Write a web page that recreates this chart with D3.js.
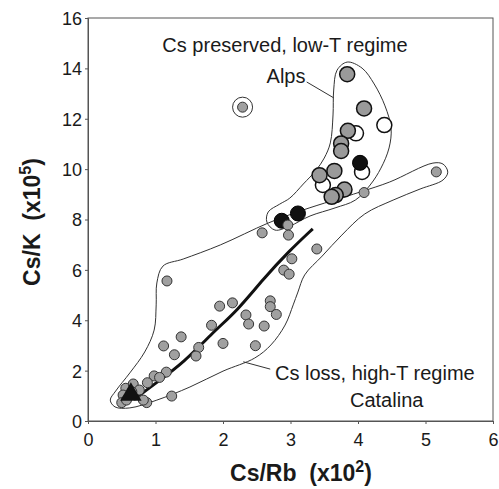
<!DOCTYPE html>
<html>
<head>
<meta charset="utf-8">
<script src="https://cdn.jsdelivr.net/npm/d3@7"></script>
<style>
  html, body { margin: 0; padding: 0; background: #fff; }
  svg { display: block; }
  text { font-family: "Liberation Sans", Arial, Helvetica, sans-serif; fill: #1a1a1a; }
</style>
</head>
<body>
<svg id="chart" width="499" height="489"></svg>
<script>
// Axis ticks
const xTicks = [0, 1, 2, 3, 4, 5, 6];
const yTicks = [0, 2, 4, 6, 8, 10, 12, 14, 16];

// Alps samples (large symbols): [Cs/Rb x10^2, Cs/K x10^5]
const alpsOpen = [[4.39, 11.75], [3.97, 11.42], [4.06, 9.89], [3.48, 9.37]];
const alpsGray = [[3.84, 13.77], [4.09, 12.41], [3.85, 11.52], [3.75, 11.02], [3.75, 10.72],
                  [3.43, 9.76], [3.65, 9.93], [3.80, 9.19], [3.67, 8.97], [3.61, 8.90]];
const alpsBlack = [[4.03, 10.25], [3.11, 8.24], [2.87, 7.95]];

// Catalina samples (small gray symbols)
const catalina = [
  [5.16, 9.89], [4.09, 9.07],
  [2.96, 7.78], [2.97, 7.38], [2.58, 7.47], [3.39, 6.83], [3.02, 6.44], [2.90, 5.99], [2.98, 5.83],
  [1.95, 4.56], [2.14, 4.69], [2.70, 4.77], [2.70, 4.54], [2.79, 4.23],
  [2.34, 4.21], [2.38, 3.85], [2.61, 3.77], [1.83, 3.80],
  [1.38, 3.34], [2.00, 3.08], [2.48, 2.99], [1.64, 2.92], [1.60, 2.58],
  [1.17, 5.56], [1.12, 2.98], [1.28, 2.63],
  [1.16, 1.94], [0.98, 1.79], [1.06, 1.73], [0.88, 1.52], [1.24, 0.99],
  [0.56, 1.30], [0.67, 1.47], [0.76, 1.23], [0.52, 1.03], [0.50, 0.73],
  [0.57, 0.83], [0.87, 0.73], [0.82, 0.83], [0.65, 1.16]
];
// Isolated sample, circled
const outlier = [[2.29, 12.46]];

// Starting composition
const startPoint = [[0.635, 1.05]];

// Trend of Cs loss with increasing temperature
const trend = [[0.68, 0.85], [1.0, 1.5], [1.41, 2.3], [1.9, 3.65], [2.2, 4.35],
               [2.6, 5.65], [2.98, 6.75], [3.33, 7.63]];

// Field outlines
const alpsField = [
  [3.84, 14.25], [4.06, 14.01], [4.24, 13.38], [4.40, 12.51], [4.49, 11.63], [4.46, 10.84],
  [4.34, 10.04], [4.18, 9.37], [3.96, 8.77], [3.66, 8.46], [3.29, 8.14], [2.99, 7.74],
  [2.77, 7.58], [2.65, 7.90], [2.67, 8.30], [2.84, 8.61], [2.99, 8.85], [3.19, 9.41],
  [3.38, 9.96], [3.50, 10.44], [3.59, 11.04], [3.63, 12.15], [3.64, 13.14], [3.69, 13.93]
];
const catalinaField = [
  [1.11, 6.15], [1.41, 6.43], [1.96, 6.99], [2.67, 7.86], [3.19, 8.38], [4.03, 9.09],
  [4.47, 9.49], [5.11, 10.24], [5.26, 10.20], [5.33, 9.88], [5.26, 9.57], [4.92, 9.21],
  [4.52, 8.77], [4.10, 8.22], [3.76, 7.38], [3.47, 6.55], [3.21, 5.80], [3.11, 5.12],
  [3.04, 4.61], [2.92, 3.81], [2.71, 3.02], [2.47, 2.50], [2.00, 1.98], [1.51, 1.35],
  [1.02, 0.83], [0.62, 0.52], [0.40, 0.56], [0.33, 0.83], [0.41, 1.19], [0.62, 1.91],
  [0.84, 2.74], [0.98, 3.61], [1.01, 4.61], [1.02, 5.48]
];

// Annotation leader lines (data coordinates)
const alpsLeader = [[3.24, 13.46], [3.64, 12.83]];
const catalinaLeader = [[2.30, 2.35], [2.70, 2.06]];

const svg = d3.select("#chart");
const margin = { left: 88, right: 6, top: 18, bottom: 68 };
const W = 499, H = 489;

const x = d3.scaleLinear().domain([0, 6]).range([margin.left, W - margin.right]);
const y = d3.scaleLinear().domain([0, 16]).range([H - margin.bottom, margin.top]);

// Frame
svg.append("rect")
  .attr("x", x(0)).attr("y", y(16))
  .attr("width", x(6) - x(0)).attr("height", y(0) - y(16))
  .attr("fill", "none").attr("stroke", "#555").attr("stroke-width", 1);

// Axes
const xAxis = svg.append("g")
  .attr("transform", `translate(0,${y(0)})`)
  .call(d3.axisBottom(x).tickValues(xTicks).tickSize(3).tickFormat(d3.format("d")));
const yAxis = svg.append("g")
  .attr("transform", `translate(${x(0)},0)`)
  .call(d3.axisLeft(y).tickValues(yTicks).tickSize(3).tickFormat(d3.format("d")));
[xAxis, yAxis].forEach(g => {
  g.select(".domain").attr("stroke", "#555");
  g.selectAll(".tick line").attr("stroke", "#555");
  g.selectAll(".tick text")
    .attr("font-size", 18)
    .attr("font-family", "Liberation Sans, Arial, sans-serif")
    .attr("fill", "#222");
});
xAxis.selectAll(".tick text").attr("dy", "1.05em");
yAxis.selectAll(".tick text").attr("x", -6).attr("dy", "0.36em");

// Axis titles
const xTitle = svg.append("text")
  .attr("x", 301).attr("y", 481)
  .attr("text-anchor", "middle")
  .attr("font-size", 23).attr("font-weight", "bold");
xTitle.append("tspan").text("Cs/Rb\u00a0\u00a0(x10");
xTitle.append("tspan").attr("font-size", 16).attr("dy", -9).text("2");
xTitle.append("tspan").attr("dy", 9).text(")");

const yTitle = svg.append("text")
  .attr("transform", `translate(40,222) rotate(-90)`)
  .attr("text-anchor", "middle")
  .attr("font-size", 23).attr("font-weight", "bold");
yTitle.append("tspan").text("Cs/K\u00a0\u00a0(x10");
yTitle.append("tspan").attr("font-size", 16).attr("dy", -9).text("5");
yTitle.append("tspan").attr("dy", 9).text(")");

// Field outlines
const field = d3.line().x(d => x(d[0])).y(d => y(d[1])).curve(d3.curveCatmullRomClosed.alpha(0.5));
[catalinaField, alpsField].forEach(pts => {
  svg.append("path").attr("d", field(pts))
    .attr("fill", "none").attr("stroke", "#333").attr("stroke-width", 1);
});

// Leaders
const seg = d3.line().x(d => x(d[0])).y(d => y(d[1]));
[alpsLeader, catalinaLeader].forEach(pts => {
  svg.append("path").attr("d", seg(pts)).attr("fill", "none")
    .attr("stroke", "#333").attr("stroke-width", 1);
});

// Trend curve
svg.append("path")
  .attr("d", d3.line().x(d => x(d[0])).y(d => y(d[1])).curve(d3.curveBasis)(trend))
  .attr("fill", "none").attr("stroke", "#111").attr("stroke-width", 3);

// Alps symbols
const big = 7.5;
svg.selectAll("circle.open").data(alpsOpen).join("circle")
  .attr("class", "open").attr("cx", d => x(d[0])).attr("cy", d => y(d[1])).attr("r", big)
  .attr("fill", "#fff").attr("stroke", "#111").attr("stroke-width", 1.5);
svg.selectAll("circle.gray").data(alpsGray).join("circle")
  .attr("class", "gray").attr("cx", d => x(d[0])).attr("cy", d => y(d[1])).attr("r", big)
  .attr("fill", "#9a9a9a").attr("stroke", "#111").attr("stroke-width", 1.5);
svg.selectAll("circle.black").data(alpsBlack).join("circle")
  .attr("class", "black").attr("cx", d => x(d[0])).attr("cy", d => y(d[1])).attr("r", big)
  .attr("fill", "#111").attr("stroke", "#000").attr("stroke-width", 1);

// Catalina symbols
svg.selectAll("circle.cat").data(catalina.concat(outlier)).join("circle")
  .attr("class", "cat").attr("cx", d => x(d[0])).attr("cy", d => y(d[1])).attr("r", 5)
  .attr("fill", "#a0a0a0").attr("stroke", "#333").attr("stroke-width", 1);

// Starting composition triangle
svg.selectAll("path.start").data(startPoint).join("path")
  .attr("class", "start")
  .attr("transform", d => `translate(${x(d[0])},${y(d[1])})`)
  .attr("d", d3.symbol(d3.symbolTriangle, 200)())
  .attr("fill", "#111");

// Ring around the isolated sample
svg.selectAll("circle.ring").data(outlier).join("circle")
  .attr("class", "ring").attr("cx", d => x(d[0])).attr("cy", d => y(d[1])).attr("r", 10)
  .attr("fill", "none").attr("stroke", "#333").attr("stroke-width", 1);

// Field labels
const lab = (tx, ty, str, anchor) => svg.append("text")
  .attr("x", tx).attr("y", ty).attr("text-anchor", anchor)
  .attr("font-size", 20).text(str);
lab(285, 52, "Cs preserved, low-T regime", "middle");
lab(286, 83, "Alps", "middle");
lab(275, 380, "Cs loss, high-T regime", "start");
lab(350, 407, "Catalina", "start");
</script>
</body>
</html>
